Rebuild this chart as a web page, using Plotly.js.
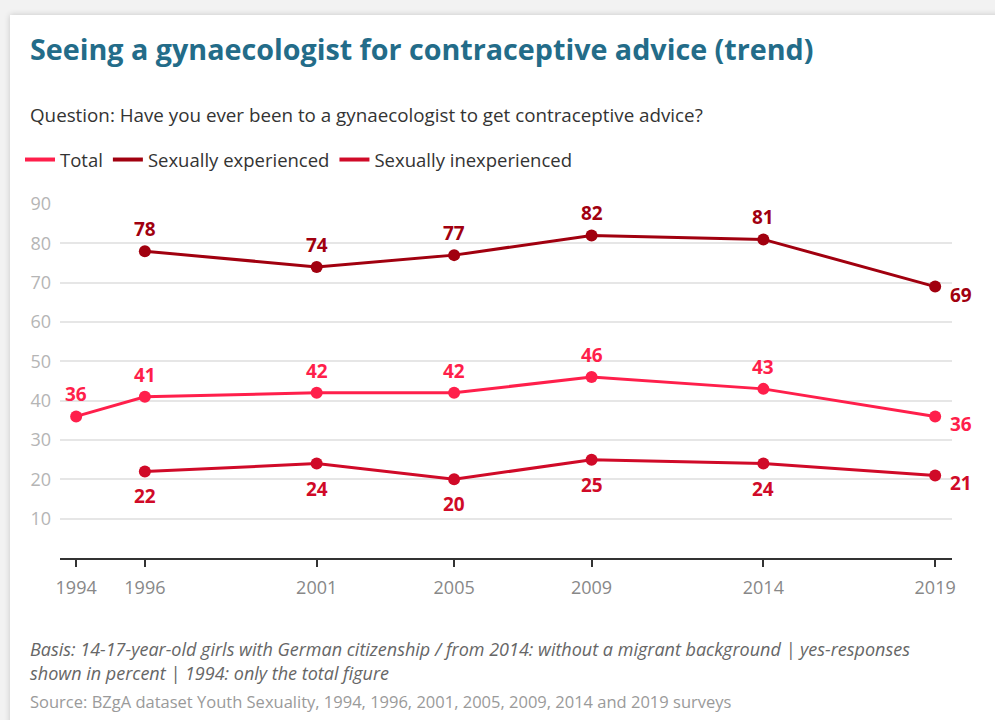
<!DOCTYPE html>
<html>
<head>
<meta charset="utf-8">
<script src="https://cdn.plot.ly/plotly-3.0.1.min.js"></script>
<style>
  html, body { margin:0; padding:0; width:995px; height:720px; overflow:hidden; background:#f2f2f2; }
  #card { position:absolute; left:10px; top:15px; width:1000px; height:720px; background:#fff; box-shadow:0 0 6px rgba(0,0,0,0.18); }
  #chart { position:absolute; left:0; top:0; width:995px; height:720px; }
</style>
</head>
<body>
<div id="card"></div>
<div id="chart"></div>
<script>
const yearsTotal = [1994, 1996, 2001, 2005, 2009, 2014, 2019];
const valuesTotal = [36, 41, 42, 42, 46, 43, 36];
const yearsGroups = [1996, 2001, 2005, 2009, 2014, 2019];
const valuesExperienced = [78, 74, 77, 82, 81, 69];
const valuesInexperienced = [22, 24, 20, 25, 24, 21];
const xTickYears = [1994, 1996, 2001, 2005, 2009, 2014, 2019];
const yTickValues = [10, 20, 30, 40, 50, 60, 70, 80, 90];
const seriesNames = ["Total", "Sexually experienced", "Sexually inexperienced"];
const seriesColors = ["#ff1f4b", "#a1000f", "#d00a28"];

const FONT = "'Open Sans', Lato, sans-serif";

const series = [
  { x: yearsTotal, y: valuesTotal, name: seriesNames[0], color: seriesColors[0], below: false },
  { x: yearsGroups, y: valuesExperienced, name: seriesNames[1], color: seriesColors[1], below: false },
  { x: yearsGroups, y: valuesInexperienced, name: seriesNames[2], color: seriesColors[2], below: true }
];

const traces = [];
series.forEach(s => {
  traces.push({
    type: "scatter", mode: "lines+markers",
    x: s.x, y: s.y, name: s.name, showlegend: false,
    line: { color: s.color, width: 3 },
    marker: { color: s.color, size: 12 },
    cliponaxis: false,
    hoverinfo: "x+y+name"
  });
});
series.forEach(s => {
  traces.push({
    type: "scatter", mode: "lines",
    x: [null], y: [null], name: s.name, showlegend: true,
    line: { color: s.color, width: 4 },
    hoverinfo: "skip"
  });
});

const labelAnnotations = [];
series.forEach(s => {
  s.y.forEach((v, i) => {
    const last = i === s.y.length - 1;
    labelAnnotations.push({
      xref: "x", yref: "y", x: s.x[i], y: v, text: "<b>" + v + "</b>",
      showarrow: false,
      xshift: last ? 26 : 0,
      yshift: last ? -8 : (s.below ? -25 : 22),
      font: { family: FONT, size: 19, color: s.color }
    });
  });
});

const L = 60, T = 204, W = 892, H = 354;
const px2x = p => (p - L) / W;
const px2y = p => (T + H - p) / H;

const layout = {
  width: 995, height: 720,
  margin: { l: L, r: 995 - L - W, t: T, b: 720 - T - H },
  paper_bgcolor: "rgba(0,0,0,0)",
  plot_bgcolor: "rgba(0,0,0,0)",
  font: { family: FONT, color: "#333" },
  showlegend: true,
  legend: {
    orientation: "h", x: px2x(20), y: px2y(160), xanchor: "left", yanchor: "middle",
    font: { family: FONT, size: 18.5, color: "#333" },
    itemwidth: 30, itemclick: false, itemdoubleclick: false,
    bgcolor: "rgba(0,0,0,0)"
  },
  xaxis: {
    range: [1993.53, 2019.49],
    tickmode: "array", tickvals: xTickYears, ticktext: xTickYears.map(String),
    showgrid: false, zeroline: false,
    showline: true, linecolor: "#333", linewidth: 2,
    ticks: "outside", ticklen: 7, tickwidth: 1.5, tickcolor: "#333",
    ticklabelstandoff: 5,
    tickfont: { family: FONT, size: 18, color: "#888" },
    fixedrange: true
  },
  yaxis: {
    range: [0, 90],
    tickmode: "array", tickvals: yTickValues,
    showgrid: true, gridcolor: "#e6e6e6", gridwidth: 1.5,
    zeroline: false, showline: false, ticks: "",
    ticklabelstandoff: 8,
    tickfont: { family: FONT, size: 18, color: "#b5b5b5" },
    fixedrange: true
  },
  annotations: labelAnnotations.concat([
    { text: "<b>Seeing a gynaecologist for contraceptive advice (trend)</b>", xref: "paper", yref: "paper",
      x: px2x(28), y: px2y(48), xanchor: "left", yanchor: "middle", showarrow: false,
      font: { family: FONT, size: 28.7, color: "#236c89" } },
    { text: "Question: Have you ever been to a gynaecologist to get contraceptive advice?", xref: "paper", yref: "paper",
      x: px2x(28), y: px2y(115), xanchor: "left", yanchor: "middle", showarrow: false,
      font: { family: FONT, size: 18.8, color: "#333" } },
    { text: "<i>Basis: 14-17-year-old girls with German citizenship / from 2014: without a migrant background | yes-responses</i>", xref: "paper", yref: "paper",
      x: px2x(28), y: px2y(649), xanchor: "left", yanchor: "middle", showarrow: false,
      font: { family: FONT, size: 18, color: "#666" } },
    { text: "<i>shown in percent | 1994: only the total figure</i>", xref: "paper", yref: "paper",
      x: px2x(28), y: px2y(673), xanchor: "left", yanchor: "middle", showarrow: false,
      font: { family: FONT, size: 18, color: "#666" } },
    { text: "Source: BZgA dataset Youth Sexuality, 1994, 1996, 2001, 2005, 2009, 2014 and 2019 surveys", xref: "paper", yref: "paper",
      x: px2x(28), y: px2y(701), xanchor: "left", yanchor: "middle", showarrow: false,
      font: { family: FONT, size: 16.5, color: "#9a9a9a" } }
  ])
};

Plotly.newPlot("chart", traces, layout, { displayModeBar: false });
</script>
</body>
</html>
